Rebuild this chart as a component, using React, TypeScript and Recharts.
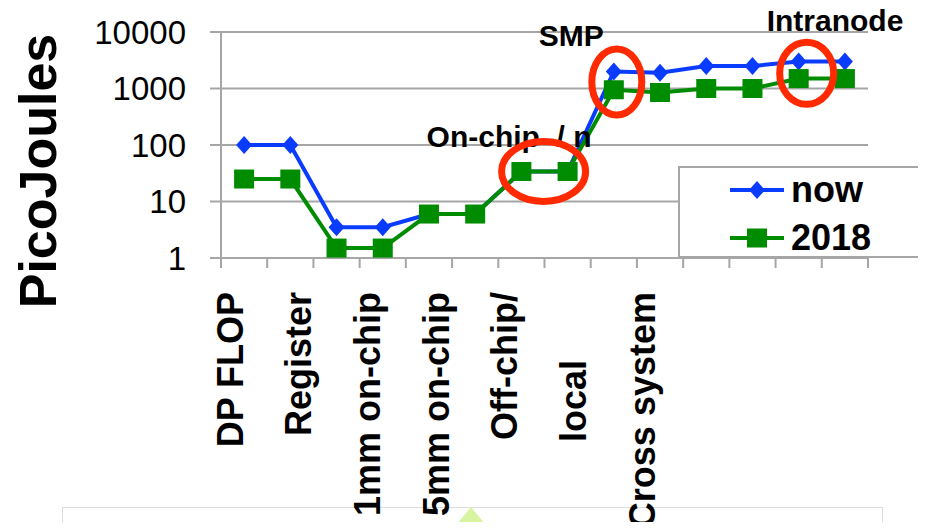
import {
  LineChart,
  Line,
  XAxis,
  YAxis,
  CartesianGrid,
  ReferenceDot,
} from "recharts";

// 14 points, two per labelled group
const categories = [
  "flop-a", "flop-b",
  "reg-a", "reg-b",
  "1mm-a", "1mm-b",
  "5mm-a", "5mm-b",
  "off-a", "off-b",
  "local-a", "local-b",
  "cross-a", "cross-b",
];
const tickLabels = [
  "DP FLOP",
  "Register",
  "1mm on-chip",
  "5mm on-chip",
  "Off-chip/",
  "local",
  "Cross system",
];
const nowValues = [100, 100, 3.5, 3.5, 6, 6, 34, 34, 2000, 1900, 2500, 2500, 3000, 3000];
const values2018 = [25, 25, 1.5, 1.5, 6, 6, 34, 34, 950, 850, 1000, 1000, 1500, 1500];
const yTicks = [1, 10, 100, 1000, 10000];

const data = categories.map((name, i) => ({
  name,
  now: nowValues[i],
  y2018: values2018[i],
}));

const FONT = '"Liberation Sans", Arial, Helvetica, sans-serif';
const BLUE = "#0a3cff";
const GREEN = "#008c00";
const RED = "#ff2a00";
const GRID = "#a6a6a6";

const PLOT_LEFT = 221;
const PLOT_RIGHT = 868;
const AXIS_Y = 258;
const BAND = (PLOT_RIGHT - PLOT_LEFT) / categories.length;

const series = [
  { key: "now", name: "now", color: BLUE },
  { key: "y2018", name: "2018", color: GREEN },
];

const renderDiamond = (props: any) => {
  const { cx, cy, index } = props;
  if (cx == null || cy == null) return <g key={index} />;
  return (
    <polygon
      key={index}
      points={`${cx},${cy - 9} ${cx + 8},${cy} ${cx},${cy + 9} ${cx - 8},${cy}`}
      fill={BLUE}
    />
  );
};

const renderSquare = (props: any) => {
  const { cx, cy, index } = props;
  if (cx == null || cy == null) return <g key={index} />;
  return <rect key={index} x={cx - 10} y={cy - 9.5} width={20} height={19} fill={GREEN} />;
};

// tick marks sit on category boundaries, labels are spread under pairs
const renderXTick = (props: any) => {
  const { x } = props;
  const index: number = props.index ?? props.payload?.index ?? 0;
  const k = index / 2;
  const label = index % 2 === 0 ? tickLabels[k] : null;
  const lx = PLOT_LEFT + 9 + k * 68.7;
  const top = label === "local" ? 360 : 292;
  return (
    <g>
      <line x1={x - BAND / 2} x2={x - BAND / 2} y1={AXIS_Y} y2={AXIS_Y + 10} stroke={GRID} strokeWidth={2} />
      {index === categories.length - 1 && (
        <line x1={x + BAND / 2} x2={x + BAND / 2} y1={AXIS_Y} y2={AXIS_Y + 10} stroke={GRID} strokeWidth={2} />
      )}
      {label && (
        <text
          x={lx}
          y={top}
          transform={`rotate(-90 ${lx} ${top})`}
          textAnchor="end"
          dominantBaseline="central"
          fontSize={36}
          fontWeight="bold"
          fontFamily={FONT}
          fill="#000"
        >
          {label}
        </text>
      )}
    </g>
  );
};

const renderYTitle = () => (
  <text
    x={38}
    y={171}
    transform="rotate(-90 38 171)"
    textAnchor="middle"
    dominantBaseline="central"
    fontSize={52}
    fontWeight="bold"
    fontFamily={FONT}
    fill="#000"
  >
    PicoJoules
  </text>
);

const ring =
  (dx: number, rx: number, ry: number, text: string, tdx: number, tdy: number) =>
  (props: any) => {
    const { cx, cy } = props;
    if (cx == null || cy == null) return <g />;
    return (
      <g>
        <text
          x={cx + tdx}
          y={cy + tdy}
          fontSize={30}
          fontWeight="bold"
          fontFamily={FONT}
          fill="#000"
          style={{ whiteSpace: "pre" }}
        >
          {text}
        </text>
        <ellipse cx={cx + dx} cy={cy} rx={rx} ry={ry} fill="none" stroke={RED} strokeWidth={7} />
      </g>
    );
  };

function LegendBox() {
  return (
    <div
      style={{
        position: "absolute",
        left: 678,
        top: 166,
        width: 245,
        height: 92,
        border: `2px solid ${GRID}`,
        boxSizing: "border-box",
        background: "#fff",
      }}
    >
      {series.map((s, i) => {
        const cy = 22 + i * 48;
        return (
          <div key={s.key} style={{ position: "absolute", left: 0, top: cy - 18, height: 36 }}>
            <svg width={60} height={20} style={{ position: "absolute", left: 47, top: 8 }}>
              <line x1={3} x2={57} y1={10} y2={10} stroke={s.color} strokeWidth={4} />
              {s.key === "now"
                ? renderDiamond({ cx: 30, cy: 10, index: i })
                : renderSquare({ cx: 30, cy: 10, index: i })}
            </svg>
            <span
              style={{
                position: "absolute",
                left: 111,
                top: 0,
                fontSize: 36,
                lineHeight: "36px",
                fontWeight: "bold",
                fontFamily: FONT,
                color: "#000",
                whiteSpace: "nowrap",
              }}
            >
              {s.name}
            </span>
          </div>
        );
      })}
    </div>
  );
}

export default function App() {
  return (
    <div
      style={{
        position: "relative",
        width: 926,
        height: 530,
        margin: -8,
        overflow: "hidden",
        background: "#fff",
      }}
    >
      <div
        style={{
          position: "absolute",
          left: 62,
          top: 507,
          width: 819,
          height: 40,
          border: "1px solid #dcdcdc",
          background: "#fff",
        }}
      />
      <svg style={{ position: "absolute", left: 0, top: 0 }} width={926} height={530}>
        <polygon points="471,507 452,530 490,530" fill="#d8f4a0" />
      </svg>
      <div style={{ position: "absolute", left: 0, top: 0 }}>
        <LineChart
          width={926}
          height={530}
          data={data}
          margin={{ top: 32, right: 926 - PLOT_RIGHT, bottom: 0, left: 0 }}
        >
          <CartesianGrid horizontal vertical={false} stroke={GRID} strokeWidth={2} />
          <XAxis
            dataKey="name"
            scale="band"
            height={530 - AXIS_Y}
            interval={0}
            tickLine={false}
            tickSize={0}
            tickMargin={0}
            axisLine={{ stroke: GRID, strokeWidth: 2 }}
            tick={renderXTick}
          />
          <YAxis
            scale="log"
            domain={[1, 10000]}
            ticks={yTicks}
            width={PLOT_LEFT}
            interval={0}
            tickSize={11}
            tickMargin={24}
            tickLine={{ stroke: GRID, strokeWidth: 2 }}
            axisLine={{ stroke: GRID, strokeWidth: 2 }}
            tick={{ fontSize: 33, fill: "#000", fontFamily: FONT }}
            label={renderYTitle}
          />
          <Line
            type="linear"
            dataKey="now"
            name="now"
            stroke={BLUE}
            strokeWidth={4}
            dot={renderDiamond}
            activeDot={false}
            isAnimationActive={false}
          />
          <Line
            type="linear"
            dataKey="y2018"
            name="2018"
            stroke={GREEN}
            strokeWidth={4}
            dot={renderSquare}
            activeDot={false}
            isAnimationActive={false}
          />
          <ReferenceDot x="5mm-b" y={34} shape={ring(-24, 42, 30, "On-chip  / n", -141, -24)} />
          <ReferenceDot x="off-a" y={1300} shape={ring(3, 25, 33, "SMP", -75, -36)} />
          <ReferenceDot x="cross-a" y={1860} shape={ring(8, 27, 31, "Intranode", -32, -42)} />
        </LineChart>
      </div>
      <LegendBox />
    </div>
  );
}
